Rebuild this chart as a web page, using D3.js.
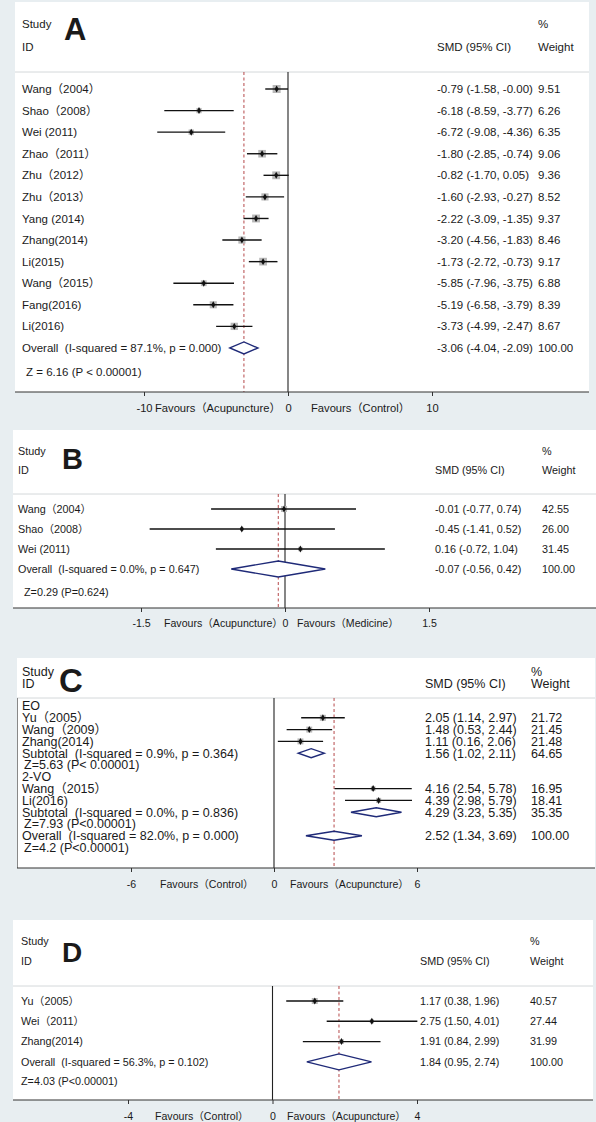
<!DOCTYPE html>
<html><head><meta charset="utf-8">
<script src="https://cdn.jsdelivr.net/npm/d3@7"></script>
<style>
html,body{margin:0;padding:0;background:#e8eef1;}
svg{display:block;}
text{font-family:"Liberation Sans",Arial,"Noto Sans CJK SC",sans-serif;fill:#1a1a1a;white-space:pre;}
</style></head><body>
<svg id="chart" width="596" height="1122"></svg>
<script>
// ---------- Panel A ----------
const aLabels = ["Wang（2004）","Shao（2008）","Wei (2011)","Zhao（2011）","Zhu（2012）","Zhu（2013）","Yang (2014)","Zhang(2014)","Li(2015)","Wang（2015）","Fang(2016)","Li(2016)","Overall  (I-squared = 87.1%, p = 0.000)","Z = 6.16 (P < 0.00001)"];
const aTypes  = ["s","s","s","s","s","s","s","s","s","s","s","s","o","z"];
const aES = [-0.79,-6.18,-6.72,-1.80,-0.82,-1.60,-2.22,-3.20,-1.73,-5.85,-5.19,-3.73,-3.06,null];
const aLo = [-1.58,-8.59,-9.08,-2.85,-1.70,-2.93,-3.09,-4.56,-2.72,-7.96,-6.58,-4.99,-4.04,null];
const aHi = [-0.00,-3.77,-4.36,-0.74,0.05,-0.27,-1.35,-1.83,-0.73,-3.75,-3.79,-2.47,-2.09,null];
const aW  = [9.51,6.26,6.35,9.06,9.36,8.52,9.37,8.46,9.17,6.88,8.39,8.67,100.00,null];
const aTicks = [-10,0,10];
const aFav = ["Favours（Acupuncture）","Favours（Control）"];

// ---------- Panel B ----------
const bLabels = ["Wang（2004）","Shao（2008）","Wei (2011)","Overall  (I-squared = 0.0%, p = 0.647)","Z=0.29 (P=0.624)"];
const bTypes  = ["s","s","s","o","z"];
const bES = [-0.01,-0.45,0.16,-0.07,null];
const bLo = [-0.77,-1.41,-0.72,-0.56,null];
const bHi = [0.74,0.52,1.04,0.42,null];
const bW  = [42.55,26.00,31.45,100.00,null];
const bTicks = [-1.5,0,1.5];
const bFav = ["Favours（Acupuncture）","Favours（Medicine）"];

// ---------- Panel C ----------
const cLabels = ["EO","Yu（2005）","Wang（2009）","Zhang(2014)","Subtotal  (I-squared = 0.9%, p = 0.364)","Z=5.63 (P< 0.00001)","2-VO","Wang（2015）","Li(2016)","Subtotal  (I-squared = 0.0%, p = 0.836)","Z=7.93 (P<0.00001)","Overall  (I-squared = 82.0%, p = 0.000)","Z=4.2 (P<0.00001)"];
const cTypes  = ["g","s","s","s","u","z","g","s","s","u","z","o","z"];
const cES = [null,2.05,1.48,1.11,1.56,null,null,4.16,4.39,4.29,null,2.52,null];
const cLo = [null,1.14,0.53,0.16,1.02,null,null,2.54,2.98,3.23,null,1.34,null];
const cHi = [null,2.97,2.44,2.06,2.11,null,null,5.78,5.79,5.35,null,3.69,null];
const cW  = [null,21.72,21.45,21.48,64.65,null,null,16.95,18.41,35.35,null,100.00,null];
const cTicks = [-6,0,6];
const cFav = ["Favours（Control）","Favours（Acupuncture）"];

// ---------- Panel D ----------
const dLabels = ["Yu（2005）","Wei（2011）","Zhang(2014)","Overall  (I-squared = 56.3%, p = 0.102)","Z=4.03 (P<0.00001)"];
const dTypes  = ["s","s","s","o","z"];
const dES = [1.17,2.75,1.91,1.84,null];
const dLo = [0.38,1.50,0.84,0.95,null];
const dHi = [1.96,4.01,2.99,2.74,null];
const dW  = [40.57,27.44,31.99,100.00,null];
const dTicks = [-4,0,4];
const dFav = ["Favours（Control）","Favours（Acupuncture）"];

function fmt(v){ const neg = v<0 || Object.is(v,-0); return (neg?"-":"")+Math.abs(v).toFixed(2); }
function tfmt(v){ return (v<0?"-":"")+Math.abs(v); }

const svg = d3.select("#chart");
svg.append("rect").attr("x",0).attr("y",0).attr("width",596).attr("height",1122).attr("fill","#e8eef1");

function panel(cfg, labels, types, es, lo, hi, w, ticks, fav){
  const g = svg.append("g");
  g.append("rect").attr("x",cfg.x0).attr("y",cfg.top).attr("width",cfg.x1-cfg.x0).attr("height",cfg.axisY-cfg.top).attr("fill","#fff");
  const x = d3.scaleLinear().domain(cfg.domain).range(cfg.range);
  const rowIdx = labels.map((d,i)=>i);
  const y = i => cfg.rowY[i];
  const fs = cfg.fs;
  // header
  g.append("text").attr("x",cfg.textX).attr("y",cfg.hY1).attr("dy","0.35em").attr("font-size",fs).text("Study");
  g.append("text").attr("x",cfg.textX).attr("y",cfg.hY2).attr("dy","0.35em").attr("font-size",fs).text("ID");
  g.append("text").attr("x",cfg.letterX).attr("y",cfg.letterBase).attr("font-size",cfg.letterSize).attr("font-weight","bold").style("font-family","Liberation Sans, Arial, sans-serif").text(cfg.letter);
  g.append("text").attr("x",cfg.smdX).attr("y",cfg.hY2).attr("dy","0.35em").attr("font-size",fs).text("SMD (95% CI)");
  g.append("text").attr("x",cfg.wX).attr("y",cfg.hY1).attr("dy","0.35em").attr("font-size",fs).text("%");
  g.append("text").attr("x",cfg.wX).attr("y",cfg.hY2).attr("dy","0.35em").attr("font-size",fs).text("Weight");
  g.append("line").attr("x1",cfg.x0).attr("x2",cfg.x1).attr("y1",cfg.sep).attr("y2",cfg.sep).attr("stroke","#d4d8da").attr("stroke-width",1);
  if(cfg.leftBorder){
    g.append("line").attr("x1",cfg.x0+0.5).attr("x2",cfg.x0+0.5).attr("y1",cfg.sep).attr("y2",cfg.axisY).attr("stroke","#888").attr("stroke-width",1);
  }
  // overall value for dashed line
  const oi = types.indexOf("o");
  g.append("line").attr("x1",x(0)).attr("x2",x(0)).attr("y1",cfg.sep).attr("y2",cfg.axisY).attr("stroke","#222").attr("stroke-width",1.1);
  g.append("line").attr("x1",x(es[oi])).attr("x2",x(es[oi])).attr("y1",cfg.sep).attr("y2",cfg.axisY)
    .attr("stroke","#b5484a").attr("stroke-width",1).attr("stroke-dasharray","3,2.5");
  // labels
  rowIdx.forEach(i=>{
    const tx = types[i]==="z" ? cfg.zX : cfg.textX;
    g.append("text").attr("x",tx).attr("y",y(i)).attr("dy","0.35em").attr("font-size",fs).text(labels[i]);
    if(es[i]!==null){
      g.append("text").attr("x",cfg.smdX).attr("y",y(i)).attr("dy","0.35em").attr("font-size",fs)
        .text(fmt(es[i])+" ("+fmt(lo[i])+", "+fmt(hi[i])+")");
      g.append("text").attr("x",cfg.wX).attr("y",y(i)).attr("dy","0.35em").attr("font-size",fs).text(w[i].toFixed(2));
    }
  });
  const studies = rowIdx.filter(i=>types[i]==="s");
  const sz = d3.scaleLinear().domain([0,d3.max(studies,i=>w[i])]).range([0,cfg.maxSq]);
  studies.forEach(i=>{
    const s = sz(w[i]);
    g.append("rect").attr("x",x(es[i])-s/2).attr("y",y(i)-s/2).attr("width",s).attr("height",s).attr("fill","#b8b8b8");
    g.append("line").attr("x1",x(lo[i])).attr("x2",x(hi[i])).attr("y1",y(i)).attr("y2",y(i)).attr("stroke","#111").attr("stroke-width",1.4);
    g.append("path").attr("transform",`translate(${x(es[i])},${y(i)})`).attr("d",d3.symbol(d3.symbolDiamond,14)()).attr("fill","#111");
  });
  rowIdx.filter(i=>types[i]==="o"||types[i]==="u").forEach(i=>{
    const h = types[i]==="o" ? cfg.dH : cfg.sH;
    const pts = [[x(lo[i]),y(i)],[x(es[i]),y(i)-h/2],[x(hi[i]),y(i)],[x(es[i]),y(i)+h/2]];
    g.append("path").attr("d",d3.line()(pts)+"Z").attr("fill","#fff").attr("stroke","#1f2a78").attr("stroke-width",1.4);
  });
  // axis
  g.append("line").attr("x1",cfg.x0).attr("x2",cfg.x1).attr("y1",cfg.axisY).attr("y2",cfg.axisY).attr("stroke","#333").attr("stroke-width",1.2);
  const ax = g.append("g").attr("transform",`translate(0,${cfg.axisY})`)
    .call(d3.axisBottom(x).tickValues(ticks).tickSize(4).tickPadding(6).tickFormat(tfmt));
  ax.select(".domain").remove();
  ax.selectAll("line").attr("stroke","#333");
  ax.selectAll("text").attr("font-size",cfg.tfs).attr("fill","#1a1a1a").style("font-family","Liberation Sans, Arial, sans-serif")
    .attr("y",null).attr("dy",null).attr("transform",null)
    .each(function(){ d3.select(this).attr("y", cfg.tickY-cfg.axisY).attr("dy","0.35em"); });
  g.append("text").attr("x",cfg.favX[0]).attr("y",cfg.tickY).attr("dy","0.35em").attr("font-size",cfg.tfs).text(fav[0]);
  g.append("text").attr("x",cfg.favX[1]).attr("y",cfg.tickY).attr("dy","0.35em").attr("font-size",cfg.tfs).text(fav[1]);
}

const seq = (y0,step,n)=>d3.range(n).map(i=>y0+i*step);

const aRowY = seq(89,21.58,13).concat([372]);
panel({x0:15,x1:589,top:2,sep:72,axisY:392,tickY:408,domain:[-10,10],range:[144,432],
  textX:22,zX:26,hY1:24,hY2:47,letter:"A",letterX:64,letterBase:40,letterSize:31,
  smdX:437,wX:538,fs:11.5,tfs:11.2,rowY:aRowY,maxSq:8,dH:12,sH:10,favX:[155,311]},
  aLabels,aTypes,aES,aLo,aHi,aW,aTicks,aFav);

const bRowY = seq(509,20,4).concat([592]);
panel({x0:13,x1:596,top:430,sep:494,axisY:608,tickY:623,domain:[-1.5,1.5],range:[141,429],
  textX:18,zX:24,hY1:451,hY2:470,letter:"B",letterX:62,letterBase:469,letterSize:29,
  smdX:435,wX:542,fs:10.8,tfs:10.6,rowY:bRowY,maxSq:6,dH:16,sH:10,favX:[164,297]},
  bLabels,bTypes,bES,bLo,bHi,bW,bTicks,bFav);

const cRowY = seq(706,11.8,13);
panel({x0:17,x1:595,top:658,sep:698,axisY:868,tickY:884,domain:[-6,6],range:[131,417],
  textX:22,zX:24,hY1:672,hY2:684,letter:"C",letterX:59,letterBase:692,letterSize:33,
  smdX:425,wX:531,fs:12.5,tfs:10.6,rowY:cRowY,maxSq:6,dH:9,sH:9,favX:[160,290],leftBorder:true},
  cLabels,cTypes,cES,cLo,cHi,cW,cTicks,cFav);

const dRowY = seq(1001,20.3,4).concat([1081]);
panel({x0:13,x1:593,top:920,sep:986,axisY:1100,tickY:1116,domain:[-4,4],range:[128,417],
  textX:21,zX:21,hY1:941,hY2:961,letter:"D",letterX:62,letterBase:962,letterSize:28,
  smdX:420,wX:530,fs:10.8,tfs:10.6,rowY:dRowY,maxSq:6,dH:16,sH:10,favX:[155,287]},
  dLabels,dTypes,dES,dLo,dHi,dW,dTicks,dFav);
</script>
</body></html>
